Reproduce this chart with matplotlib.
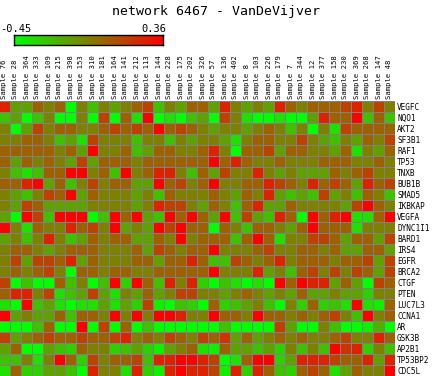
import numpy as np
import matplotlib
matplotlib.use("Agg")
import matplotlib.pyplot as plt
from matplotlib.colors import LinearSegmentedColormap

samples = ["76", "28", "364", "333", "109", "215", "398", "153", "310", "181", "164", "141",
           "212", "113", "144", "228", "175", "202", "326", "57", "136", "402", "8", "103",
           "226", "179", "7", "344", "12", "377", "158", "230", "369", "268", "147", "48"]
sample_labels = ["Sample " + s for s in samples]

genes = ["VEGFC", "NQO1", "AKT2", "SF3B1", "RAF1", "TP53", "TNXB", "BUB1B", "SMAD5",
         "IKBKAP", "VEGFA", "DYNC1I1", "BARD1", "IRS4", "EGFR", "BRCA2", "CTGF", "PTEN",
         "LUC7L3", "CCNA1", "AR", "GSK3B", "AP2B1", "TP53BP2", "CDC5L"]

vmin, vmax = -0.45, 0.36

values = [
    [0.25,-0.15,-0.15,0.05,-0.05,0.05,-0.45,-0.05,-0.25,-0.05,-0.15,-0.05, 0.05,0.15,-0.25,-0.05,-0.15,0.05,0.05,-0.15,0.25,-0.05,-0.15,-0.05, -0.15,0.25,0.05,-0.05,0.05,0.05,0.05,0.15,0.25,-0.05,0.15,-0.05],
    [-0.25,-0.15,-0.45,-0.25,-0.05,-0.45,-0.45,-0.05,-0.45,0.15,-0.45,0.05, -0.35,0.36,-0.45,-0.35,-0.45,-0.25,-0.15,-0.45,0.15,-0.05,-0.35,-0.45, -0.45,-0.35,-0.45,-0.45,-0.15,0.25,0.05,0.05,0.36,-0.25,0.05,-0.25],
    [-0.05,-0.45,-0.15,0.15,-0.05,0.05,0.05,-0.05,-0.05,0.05,0.15,0.05, 0.15,0.05,0.36,0.05,0.15,0.05,-0.05,-0.15,-0.05,-0.05,-0.15,-0.05, 0.05,-0.05,-0.25,-0.05,-0.45,-0.05,-0.35,0.15,0.05,0.05,0.05,0.05],
    [-0.05,-0.05,0.05,0.05,-0.05,-0.25,-0.15,-0.35,0.15,-0.05,-0.05,-0.05, -0.25,-0.05,-0.05,-0.25,-0.05,-0.15,-0.05,-0.05,-0.15,-0.35,-0.05,0.05, 0.05,-0.05,-0.05,0.15,-0.05,-0.15,-0.25,-0.05,-0.15,0.05,-0.05,0.15],
    [0.05,0.05,0.05,0.05,0.05,-0.05,0.05,-0.15,0.36,-0.05,-0.05,0.05, -0.25,-0.15,0.05,0.05,-0.05,-0.05,0.05,0.25,-0.05,-0.45,0.05,0.05, 0.15,-0.15,0.05,0.05,-0.05,-0.05,-0.15,0.05,-0.35,-0.05,-0.15,0.05],
    [0.05,-0.15,0.05,-0.05,0.05,-0.05,-0.15,0.15,-0.15,0.05,0.05,0.05, -0.05,0.05,0.05,0.05,0.05,0.05,0.05,0.36,0.05,0.25,0.05,-0.05, -0.05,0.05,-0.05,-0.05,-0.05,0.05,0.05,0.05,-0.05,-0.05,0.05,-0.05],
    [-0.05,-0.25,-0.35,-0.25,0.05,0.05,0.36,0.36,-0.05,0.05,-0.25,0.36, -0.05,0.05,0.25,0.25,-0.05,-0.25,0.05,-0.15,0.15,-0.05,-0.05,0.25, -0.05,-0.15,-0.05,-0.15,-0.15,-0.15,0.05,-0.05,0.05,0.15,-0.05,-0.05],
    [0.05,0.05,0.25,0.36,-0.15,0.05,-0.25,-0.05,0.15,-0.05,0.05,0.05, -0.15,-0.15,0.36,0.05,0.15,-0.05,0.05,0.36,-0.05,-0.05,0.05,0.05, 0.25,0.15,0.05,-0.05,0.25,0.05,0.15,0.05,-0.15,0.25,0.05,0.15],
    [-0.05,-0.15,-0.25,-0.05,0.15,0.05,0.36,-0.15,0.05,-0.05,-0.05,-0.05, -0.15,-0.05,-0.25,0.05,-0.05,-0.05,-0.05,0.05,-0.05,-0.15,0.05,-0.05, 0.25,-0.15,-0.25,-0.15,-0.25,0.15,-0.15,-0.05,-0.25,0.05,-0.05,-0.25],
    [-0.05,-0.15,0.15,0.05,-0.15,-0.15,-0.15,-0.15,-0.05,-0.05,-0.05,-0.05, -0.15,-0.05,0.25,0.15,0.15,-0.05,-0.15,0.05,-0.05,-0.25,0.05,0.25, -0.15,-0.15,0.05,-0.05,-0.05,-0.05,-0.05,-0.15,0.15,0.36,0.05,-0.05],
    [-0.15,-0.45,0.36,0.15,-0.25,0.36,0.36,0.36,-0.45,-0.25,0.36,0.05, 0.36,-0.15,-0.25,0.36,0.05,0.36,0.05,-0.15,0.36,-0.25,0.15,-0.15, -0.25,0.25,0.05,-0.45,0.36,0.05,0.25,0.36,-0.35,-0.35,0.05,0.36],
    [0.36,-0.05,-0.35,0.05,-0.05,-0.05,0.25,0.05,0.15,-0.05,0.36,-0.15, -0.05,-0.15,0.36,0.15,0.36,0.05,0.05,-0.45,0.05,-0.05,-0.25,0.05, 0.05,-0.05,-0.15,0.05,0.36,0.05,0.05,0.05,-0.35,-0.05,-0.05,-0.05],
    [-0.15,-0.05,-0.25,-0.05,0.25,-0.05,-0.25,-0.15,0.05,-0.05,0.05,0.05, -0.15,-0.15,0.05,-0.05,0.36,-0.05,0.05,0.05,0.05,-0.25,0.05,0.36, 0.05,-0.35,-0.05,-0.05,0.15,0.15,0.05,-0.15,0.05,0.05,-0.15,0.15],
    [-0.05,0.05,0.05,-0.05,-0.15,-0.05,0.05,0.05,0.05,-0.05,-0.05,-0.05, 0.05,-0.15,0.15,0.05,-0.05,0.05,0.05,0.36,-0.05,-0.05,-0.05,0.05, 0.15,-0.05,-0.05,0.05,0.05,-0.05,0.05,-0.15,-0.15,0.05,0.05,-0.15],
    [-0.05,0.15,-0.15,0.15,0.15,0.05,0.25,-0.15,0.05,-0.05,-0.05,-0.05, 0.05,0.05,-0.15,0.05,0.05,0.25,0.05,-0.25,-0.25,0.15,0.05,-0.05, 0.05,0.25,-0.05,0.05,0.05,0.05,-0.05,0.05,0.05,0.15,-0.15,0.15],
    [-0.05,0.05,-0.05,0.05,0.15,-0.05,-0.45,0.05,0.05,-0.05,0.05,0.05, -0.05,-0.05,0.05,0.05,0.05,0.05,0.05,0.36,-0.05,-0.05,-0.05,0.25, -0.15,-0.05,-0.25,0.05,0.15,-0.05,0.15,-0.05,0.15,0.05,-0.15,0.15],
    [0.15,-0.45,-0.25,-0.45,-0.45,0.05,-0.25,-0.05,-0.45,-0.25,0.36,-0.30, 0.36,0.05,-0.25,0.25,-0.05,0.25,-0.30,-0.45,-0.25,-0.35,-0.45,-0.35, -0.45,0.36,0.05,0.36,0.25,0.25,-0.15,0.05,-0.15,-0.45,0.15,0.05],
    [0.05,0.25,0.25,-0.05,0.15,-0.35,-0.25,-0.15,0.15,-0.15,-0.35,-0.05, -0.15,0.05,-0.15,-0.05,0.15,0.15,-0.05,-0.05,-0.15,-0.05,0.05,-0.05, -0.15,-0.05,-0.15,0.05,-0.15,-0.15,-0.05,-0.15,-0.15,-0.30,-0.05,-0.05],
    [-0.35,-0.45,0.36,-0.25,-0.15,-0.35,-0.45,-0.35,-0.35,-0.15,-0.35,-0.15, -0.30,0.15,-0.40,-0.45,-0.25,-0.30,-0.45,0.05,-0.30,-0.25,-0.15,-0.05, -0.25,-0.45,-0.05,-0.30,0.05,-0.30,-0.25,-0.35,0.36,-0.35,-0.40,0.05],
    [0.36,-0.15,-0.05,-0.15,-0.15,0.05,-0.25,0.05,0.05,-0.05,0.36,-0.05, 0.36,-0.05,0.36,0.36,0.25,-0.05,-0.05,0.36,0.05,0.05,-0.05,0.36, 0.05,0.05,-0.05,0.05,-0.05,0.05,0.15,-0.05,-0.25,0.36,-0.05,0.05],
    [-0.45,-0.45,-0.45,-0.25,0.05,-0.45,-0.45,0.36,-0.45,0.15,-0.45,0.05, -0.45,-0.25,-0.45,-0.45,-0.45,-0.45,-0.45,-0.45,-0.25,-0.45,-0.45,-0.45, -0.45,0.15,-0.15,-0.45,-0.45,-0.05,-0.25,-0.45,-0.45,-0.40,-0.20,-0.45],
    [0.15,-0.15,-0.05,0.05,0.15,0.05,0.05,0.15,0.05,0.05,0.15,0.25, -0.05,0.05,-0.05,0.15,0.05,-0.05,0.15,0.05,0.20,-0.15,0.05,-0.15, -0.05,0.05,-0.05,0.05,-0.05,-0.05,0.05,0.15,-0.05,-0.05,0.25,0.05],
    [-0.15,0.05,-0.45,-0.45,-0.15,-0.25,-0.30,0.05,-0.05,-0.05,-0.30,-0.25, -0.15,-0.30,-0.40,-0.15,-0.05,0.05,-0.35,-0.40,0.05,-0.15,-0.15,-0.25, -0.15,-0.30,-0.05,-0.25,-0.05,-0.25,0.36,0.20,0.25,-0.30,-0.05,-0.25],
    [-0.25,-0.25,-0.05,-0.35,-0.05,0.36,0.05,-0.30,0.15,-0.05,0.05,0.05, 0.15,-0.25,0.25,0.25,0.36,0.36,0.25,0.15,-0.45,-0.35,0.05,0.36, 0.36,-0.30,-0.15,0.25,0.25,0.25,0.15,0.05,0.05,0.25,-0.15,0.25],
    [-0.35,0.05,-0.30,-0.30,-0.15,-0.15,-0.25,-0.45,0.25,-0.05,-0.05,-0.35, 0.25,-0.30,-0.40,0.25,0.36,0.25,0.25,0.15,-0.40,0.25,-0.30,0.25, 0.05,-0.25,-0.30,0.05,0.15,0.05,-0.35,-0.15,0.05,-0.05,-0.05,0.36],
]

plt.rcParams["font.family"] = "DejaVu Sans Mono"
cmap = LinearSegmentedColormap.from_list("gr", ["#00ff00", "#ff0000"])

W, H = 438, 376
fig = plt.figure(figsize=(W / 100, H / 100), dpi=100)

# heatmap
ax = fig.add_axes([-1 / W, 0, 396 / W, 275 / H])
ax.pcolormesh(np.array(values), cmap=cmap, vmin=vmin, vmax=vmax,
              edgecolors="#808080", linewidth=0.6)
ax.set_xlim(0, len(samples))
ax.set_ylim(len(genes), 0)
for s in ax.spines.values():
    s.set_visible(False)
ax.xaxis.tick_top()
ax.set_xticks(np.arange(len(samples)) + 0.5)
ax.set_xticklabels(sample_labels, rotation=90, fontsize=5.2)
ax.yaxis.tick_right()
ax.set_yticks(np.arange(len(genes)) + 0.5)
ax.set_yticklabels(genes, fontsize=5.6)
ax.tick_params(length=0, pad=1.5)

# colour scale bar
cax = fig.add_axes([14 / W, (H - 45) / H, 149 / W, 10 / H])
cax.imshow(np.linspace(0, 1, 256)[None, :], aspect="auto", cmap=cmap)
cax.set_xticks([])
cax.set_yticks([])
for s in cax.spines.values():
    s.set_linewidth(1)
fig.text(0 / W, 1 - 34 / H, "-0.45", fontsize=7.5, ha="left", va="bottom")
fig.text(166 / W, 1 - 34 / H, "0.36", fontsize=7.5, ha="right", va="bottom")

fig.text(216 / W, 1 - 11 / H, "network 6467 - VanDeVijver", fontsize=9.5,
         ha="center", va="center")

fig.savefig("out.png", dpi=100)
